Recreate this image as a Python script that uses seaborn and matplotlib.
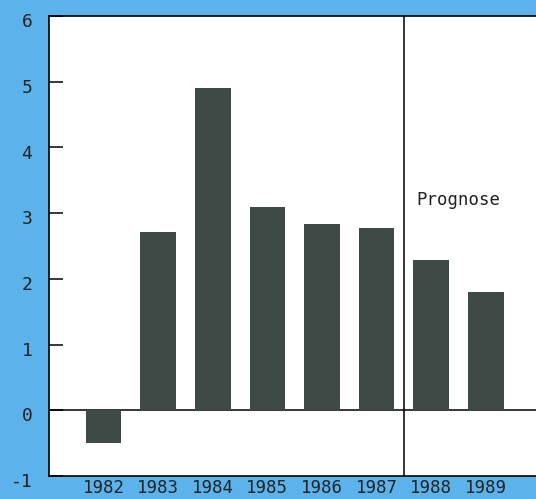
import matplotlib
matplotlib.use("Agg")
import matplotlib.pyplot as plt
import matplotlib.transforms as mtransforms
import seaborn as sns

# Data
years = ["1982", "1983", "1984", "1985", "1986", "1987", "1988", "1989"]
values = [-0.5, 2.71, 4.90, 3.10, 2.83, 2.77, 2.28, 1.80]
y_ticks = [-1, 0, 1, 2, 3, 4, 5, 6]

bg_color = "#5cb3ec"
bar_color = "#3d4a46"

sns.set_style("white")
plt.rcParams["font.family"] = ["DejaVu Sans Mono", "DejaVu Sans"]

fig = plt.figure(figsize=(5.36, 4.99), dpi=100, facecolor=bg_color)
ax = fig.add_axes([0.0914, 0.0461, 0.9086, 0.922])
ax.set_facecolor("white")

sns.barplot(x=years, y=values, color=bar_color, saturation=1, width=0.65,
            linewidth=0, ax=ax)

# baseline and forecast separator
ax.axhline(0, color="black", linewidth=1.1, zorder=0.5)
ax.axvline(5.5, color="black", linewidth=1.1)
ax.text(5.72, 3.2, "Prognose", fontsize=12.5, ha="left", va="center", color="#222222")

ax.set_xlim(-1, 7.92)
ax.set_ylim(-1, 6)
ax.set_yticks(y_ticks)
ax.set_yticklabels([str(t) for t in y_ticks])

ax.tick_params(axis="y", left=True, direction="in", length=10, width=1.1, pad=12,
               labelsize=13, colors="black")
ax.tick_params(axis="x", bottom=False, length=0, pad=2, labelsize=12.5, colors="black")

# nudge y tick labels slightly down like the original
offset = mtransforms.ScaledTranslation(0, -3 / 72, fig.dpi_scale_trans)
for lbl in ax.get_yticklabels():
    lbl.set_color("#222222")
    lbl.set_transform(lbl.get_transform() + offset)
for lbl in ax.get_xticklabels():
    lbl.set_color("#222222")

for side in ["left", "top", "bottom"]:
    ax.spines[side].set_color("black")
    ax.spines[side].set_linewidth(1.2)
ax.spines["right"].set_visible(False)

ax.set_xlabel("")
ax.set_ylabel("")

fig.savefig("out.png", dpi=100, facecolor=bg_color)
